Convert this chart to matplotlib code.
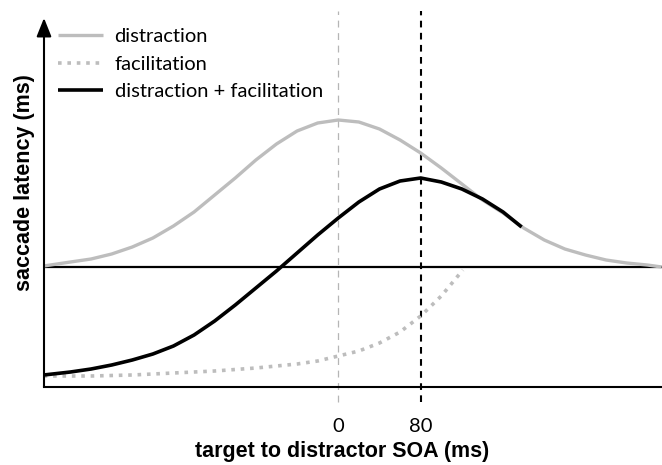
import matplotlib
matplotlib.use('Agg')
from matplotlib import pyplot as plt

# SOA (ms) and saccade latency (arbitrary units)
distraction_soa = [-286, -260, -240, -220, -200, -180, -160, -140, -120, -100,
                   -80, -60, -40, -20, 0, 20, 40, 60, 80, 100, 120, 140, 160,
                   180, 200, 220, 240, 260, 280, 300, 314]
distraction_lat = [121, 125, 128, 133, 140, 149, 161, 175, 192, 209,
                   227, 243, 256, 264, 267, 265, 258, 247, 234, 219, 203, 187,
                   174, 159, 147, 138, 132, 127, 124, 122, 120]

facilitation_soa = [-286, -240, -200, -160, -120, -80, -40, -20, 0, 20, 40,
                    60, 80, 100, 121]
facilitation_lat = [11, 11, 12, 14, 16, 19, 23, 26, 31, 36, 44,
                    55, 71, 91, 117]

combined_soa = [-286, -260, -240, -220, -200, -180, -160, -140, -120, -100,
                -80, -60, -40, -20, 0, 20, 40, 60, 80, 100, 120, 140, 160, 178]
combined_lat = [12, 15, 18, 22, 27, 33, 41, 52, 66, 82,
                99, 116, 134, 152, 169, 185, 198, 206, 209, 205, 198, 188, 175, 160]

baseline = 120
marked_soa = [0, 80]
marked_labels = ['0', '80']

GREY = '#bdbdbd'


def main():
    fig = plt.figure(figsize=(6.62, 4.65), dpi=100)
    ax = fig.add_axes([44 / 662, 78 / 465, 618 / 662, 369 / 465])
    ax.set_xlim(-285.7, 314.3)
    ax.set_ylim(0, 369)

    ax.axhline(baseline, color='black', lw=1.6, zorder=2)

    ax.plot([marked_soa[0]] * 2, [-15, 376], color='#b5b5b5', lw=0.9,
            dashes=(5.5, 4.5), clip_on=False, zorder=1)
    ax.plot([marked_soa[1]] * 2, [-15, 376], color='black', lw=1.5,
            dashes=(3.2, 2.6), clip_on=False, zorder=1)

    ax.plot(distraction_soa, distraction_lat, color=GREY, lw=2.4,
            solid_capstyle='butt', solid_joinstyle='round',
            label='distraction', zorder=3)
    ax.plot(facilitation_soa, facilitation_lat, color=GREY, lw=2.6,
            dashes=(1, 1.6), label='facilitation', zorder=3)
    ax.plot(combined_soa, combined_lat, color='black', lw=2.6,
            solid_capstyle='butt', solid_joinstyle='round',
            label='distraction + facilitation', zorder=4)

    for side in ['top', 'right', 'left']:
        ax.spines[side].set_visible(False)
    ax.spines['bottom'].set_linewidth(1.5)
    ax.annotate('', xy=(-285.7, 369), xytext=(-285.7, 0),
                arrowprops=dict(arrowstyle='-|>,head_length=0.45,head_width=0.18',
                                lw=1.5, color='black', mutation_scale=25,
                                shrinkA=0, shrinkB=0),
                annotation_clip=False)

    ax.set_yticks([])
    ax.set_xticks(marked_soa)
    ax.set_xticklabels(marked_labels, fontfamily='Lato', fontsize=14.5)
    ax.tick_params(axis='x', length=0, pad=22)

    ax.set_xlabel('target to distractor SOA (ms)', fontfamily='Liberation Sans',
                  fontweight='bold', fontsize=15.5)
    ax.xaxis.set_label_coords(0.482, -0.176)
    ax.xaxis.label.set_va('center')
    ax.set_ylabel('saccade latency (ms)', fontfamily='Liberation Sans',
                  fontweight='bold', fontsize=15.5)
    ax.yaxis.set_label_coords(-0.031, 0.553)
    ax.yaxis.label.set_va('center')

    ax.legend(loc='upper left', bbox_to_anchor=(0.01, 0.995), frameon=False,
              prop={'family': 'Lato', 'size': 14.5}, handlelength=2.2,
              handletextpad=0.6, labelspacing=0.52, borderaxespad=0)

    fig.savefig('out.png', dpi=100)


if __name__ == '__main__':
    main()
